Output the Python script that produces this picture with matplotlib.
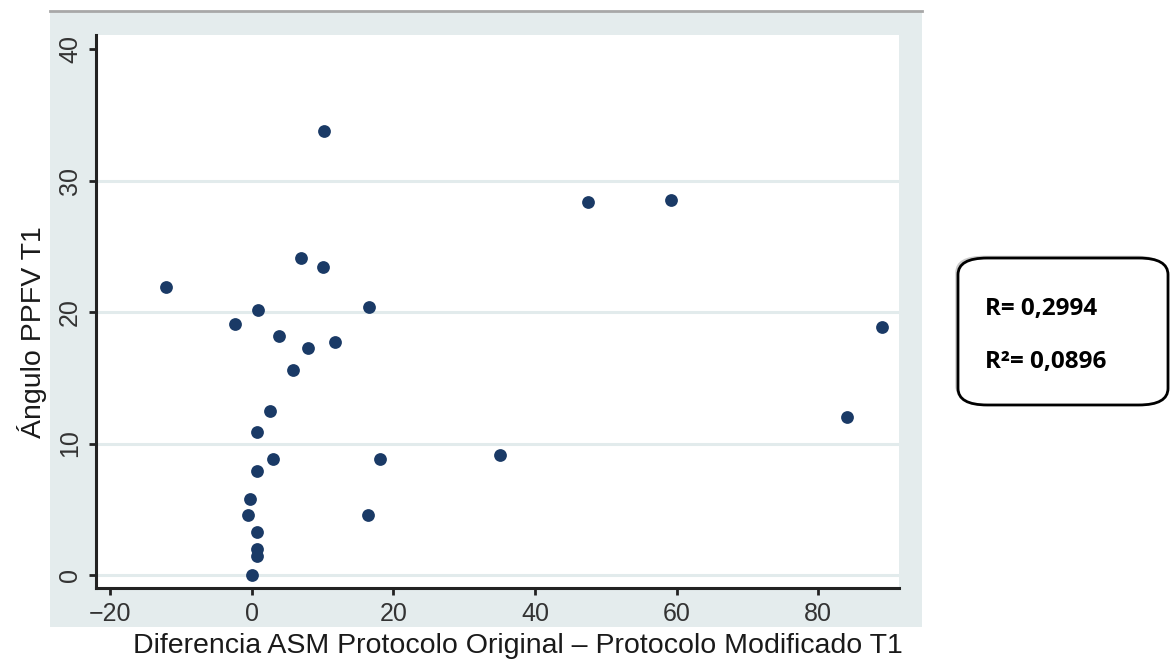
import matplotlib.pyplot as plt
from matplotlib.patches import Rectangle, FancyBboxPatch
from matplotlib.lines import Line2D

plt.rcParams['font.family'] = ['Liberation Sans', 'DejaVu Sans']

# diferencia ASM (original - modificado) vs angulo PPFV T1
dif_asm = [10.2, -12.1, -2.4, 0.8, 7.0, 10.0, 16.5, 3.9, 7.9, 11.8, 5.8,
           2.6, 0.7, 3.0, 0.7, -0.3, -0.6, 0.7, 0.7, 0.7, 0.0,
           16.4, 18.1, 35.0, 47.5, 59.2, 84.0, 89.0]
angulo = [33.8, 21.9, 19.1, 20.2, 24.1, 23.4, 20.4, 18.2, 17.3, 17.7, 15.6,
          12.5, 10.9, 8.8, 7.9, 5.8, 4.55, 3.3, 1.95, 1.4, 0.0,
          4.55, 8.8, 9.1, 28.4, 28.5, 12.0, 18.9]
xticks = [-20, 0, 20, 40, 60, 80]
yticks = [0, 10, 20, 30, 40]
r_text = "R= 0,2994"
r2_text = "R²= 0,0896"

panel = "#e4eced"
dot = "#1a3a66"

fig = plt.figure(figsize=(11.7, 6.65), dpi=100)
fig.patch.set_facecolor("white")

# light panel behind the plot (Stata style)
fig.patches.append(Rectangle((0.0427, 0.0571), 0.7453, 0.9263, transform=fig.transFigure,
                             facecolor=panel, edgecolor="none", zorder=-10))
fig.lines.append(Line2D([0.0427, 0.788], [0.9835, 0.9835], transform=fig.transFigure,
                        color="#a8a8a8", lw=2, zorder=-5))

ax = fig.add_axes([0.0821, 0.1158, 0.6863, 0.8316])
ax.set_zorder(1)
ax.set_facecolor("white")
ax.set_xlim(-22.0, 91.4)
ax.set_ylim(-1.0, 41.1)

for y in yticks[:-1]:
    ax.axhline(y, color="#e2ebec", lw=2.2, zorder=1)

ax.plot(dif_asm, angulo, 'o', color=dot, markersize=9.2, markeredgewidth=0, zorder=3)

ax.set_xticks(xticks)
ax.set_yticks(yticks)
ax.tick_params(axis='both', length=5, width=2, color="#222222", labelsize=18,
               labelcolor="#333333", pad=5)
for lab in ax.get_yticklabels():
    lab.set_rotation(90)
    lab.set_va('center')

for s in ['top', 'right']:
    ax.spines[s].set_visible(False)
for s in ['left', 'bottom']:
    ax.spines[s].set_linewidth(2.2)
    ax.spines[s].set_color("#222222")

ax.set_xlabel("Diferencia ASM Protocolo Original – Protocolo Modificado T1",
              fontsize=20.5, color="#1a1a1a")
ax.set_ylabel("Ángulo PPFV T1", fontsize=20.5, color="#1a1a1a")
ax.xaxis.set_label_coords(0.525, -0.082)
ax.yaxis.set_label_coords(-0.061, 0.462)

# R box with shadow
shadow = FancyBboxPatch((0.8165, 0.3945), 0.1795, 0.221, boxstyle="round,pad=0,rounding_size=0.025",
                        transform=fig.transFigure, facecolor="#999999", edgecolor="none",
                        alpha=0.5, zorder=1)
box = FancyBboxPatch((0.8188, 0.391), 0.1795, 0.221, boxstyle="round,pad=0,rounding_size=0.025",
                     transform=fig.transFigure, facecolor="white", edgecolor="black",
                     lw=2, zorder=2)
fig.patches.append(shadow)
fig.patches.append(box)
fig.text(0.842, 0.536, r_text, fontsize=17.5, fontweight='bold', family=['Open Sans', 'DejaVu Sans'],
         va='center', ha='left', zorder=3)
fig.text(0.842, 0.456, r2_text, fontsize=17.5, fontweight='bold', family=['Open Sans', 'DejaVu Sans'],
         va='center', ha='left', zorder=3)

fig.savefig("out.png", dpi=100)
